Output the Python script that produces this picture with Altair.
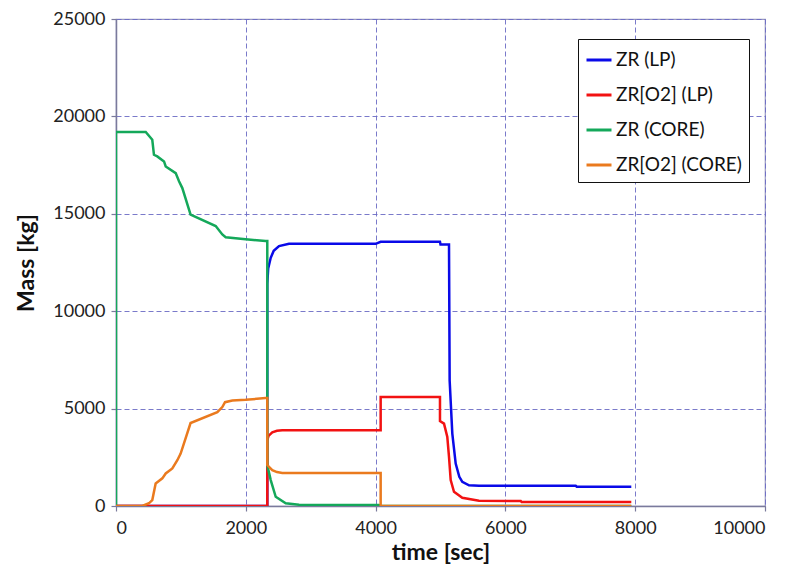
import altair as alt
import pandas as pd

series_names = ["ZR (LP)", "ZR[O2] (LP)", "ZR (CORE)", "ZR[O2] (CORE)"]
series_colors = ["#0a0ae8", "#f21212", "#14a85a", "#ea7a1e"]

zr_lp_t = [0, 2331, 2331, 2345, 2384, 2430, 2512, 2666, 4001, 4078, 4992, 5000, 5131, 5141, 5182, 5234, 5290, 5336, 5439, 5593, 7083, 7100, 7940]
zr_lp_m = [0, 0, 11400, 12200, 12740, 13100, 13340, 13460, 13460, 13560, 13560, 13430, 13430, 6440, 3720, 2180, 1500, 1240, 1060, 1040, 1040, 990, 990]

zro2_lp_t = [0, 2331, 2331, 2350, 2408, 2480, 2562, 4078, 4078, 4992, 4992, 5054, 5105, 5131, 5157, 5208, 5336, 5593, 6236, 6250, 7940]
zro2_lp_m = [0, 0, 3370, 3600, 3780, 3860, 3885, 3885, 5590, 5590, 4360, 4230, 3540, 2520, 1330, 730, 425, 270, 260, 205, 205]

zr_core_t = [0, 0, 458, 559, 585, 636, 740, 766, 920, 971, 1022, 1149, 1536, 1638, 1690, 1997, 2305, 2331, 2331, 2384, 2461, 2615, 2820, 4052, 4078, 7940]
zr_core_m = [0, 19200, 19200, 18800, 18030, 17945, 17690, 17430, 17090, 16670, 16320, 14960, 14370, 13940, 13800, 13690, 13600, 13600, 2100, 1330, 475, 140, 66, 50, 0, 0]

zro2_core_t = [0, 405, 508, 559, 611, 714, 766, 868, 945, 996, 1149, 1561, 1638, 1680, 1793, 1997, 2305, 2331, 2331, 2408, 2480, 2562, 4078, 4078, 7940]
zro2_core_m = [0, 0, 140, 307, 1160, 1420, 1670, 1930, 2350, 2690, 4260, 4820, 5080, 5330, 5420, 5450, 5540, 5540, 2100, 1840, 1740, 1700, 1700, 0, 0]

x_ticks = [0, 2000, 4000, 6000, 8000, 10000]
y_ticks = [0, 5000, 10000, 15000, 20000, 25000]

rows = []
for name, ts, ms in zip(series_names,
                        [zr_lp_t, zro2_lp_t, zr_core_t, zro2_core_t],
                        [zr_lp_m, zro2_lp_m, zr_core_m, zro2_core_m]):
    for i, (t, m) in enumerate(zip(ts, ms)):
        rows.append({"series": name, "time": t, "mass": m, "idx": i})
df = pd.DataFrame(rows)

FONT = "Lato"
grid_color = "#6c6cc4"
axis_color = "#7a7a9c"

chart = alt.Chart(df).mark_line(strokeWidth=2.5, clip=True).encode(
    x=alt.X("time:Q",
            scale=alt.Scale(domain=[0, 10000], nice=False, zero=False),
            axis=alt.Axis(values=x_ticks, title="time [sec]", format="d",
                          labelPadding=8, titlePadding=4)),
    y=alt.Y("mass:Q",
            scale=alt.Scale(domain=[0, 25000], nice=False),
            axis=alt.Axis(values=y_ticks, title="Mass [kg]", format="d",
                          labelPadding=6, titlePadding=14)),
    color=alt.Color("series:N",
                    scale=alt.Scale(domain=series_names, range=series_colors),
                    sort=series_names,
                    legend=alt.Legend(title=None, orient="none", legendX=462, legendY=20,
                                      symbolType="stroke", symbolSize=625, symbolStrokeWidth=3,
                                      labelFont=FONT, labelFontSize=19, labelColor="#111",
                                      labelOffset=3, rowPadding=11, padding=7,
                                      strokeColor="#111", fillColor="white",
                                      labelLimit=300)),
    order="idx:Q",
).properties(
    width=649, height=487,
    autosize=alt.AutoSizeParams(type="none"),
    padding={"left": 108, "top": 11, "right": 20, "bottom": 60},
).configure(
    background="white"
).configure_axis(
    labelFont=FONT, labelFontSize=18, labelColor="#222",
    titleFont=FONT, titleFontSize=23, titleFontWeight="bold", titleColor="#111",
    grid=True, gridColor=grid_color, gridDash=[5, 3], gridWidth=1, gridOpacity=0.9,
    domainColor=axis_color, domainWidth=1.5,
    tickColor=axis_color, tickSize=5, tickWidth=1.2,
).configure_view(
    stroke="#9a9ac0", strokeWidth=1.2,
)

chart.save("out.html", embed_options={"renderer": "svg", "actions": False})
